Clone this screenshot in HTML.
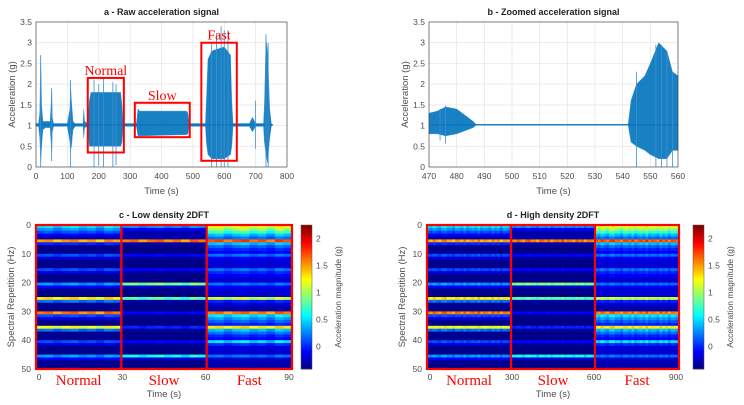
<!DOCTYPE html>
<html><head><meta charset="utf-8">
<style>
html,body{margin:0;padding:0;background:#fff;}
svg{display:block;font-family:"Liberation Sans",sans-serif;}
.tk{font-size:8.5px;fill:#4d4d4d;}
.ttl{font-size:9px;font-weight:bold;fill:#222;}
.ax{font-size:9.5px;fill:#4d4d4d;}
.red{font-family:"Liberation Serif",serif;fill:#ff0000;}
</style></head>
<body>
<svg id="fig" width="744" height="405" viewBox="0 0 744 405" xmlns="http://www.w3.org/2000/svg"></svg>
<script>
// ---- chart a data (time s, envelope high g, envelope low g) ----
const rawTimes = [0,8,12,15,18,22,30,45,48,50,52,56,100,108,110,113,118,125,150,152,155,165,170,175,270,274,278,320,325,330,480,484,488,540,543,548,560,600,620,624,628,680,690,700,710,725,728,733,738,745,750,755];
const rawHigh  = [1.05,1.05,1.3,2.7,1.5,1.1,1.1,1.1,1.5,1.9,1.2,1.05,1.05,1.4,2.0,1.6,1.1,1.05,1.05,1.4,1.1,1.05,1.6,1.8,1.8,1.5,1.05,1.05,1.4,1.35,1.35,1.3,1.05,1.05,1.6,2.6,2.8,2.9,2.7,1.6,1.05,1.05,1.2,1.05,1.05,1.05,1.5,3.1,2.8,1.4,1.05,1.02];
const rawLow   = [0.98,0.98,0.7,0.1,0.5,0.9,0.95,0.95,0.6,0.3,0.85,0.98,0.98,0.6,0.4,0.5,0.9,0.98,0.98,0.7,0.95,0.98,0.5,0.5,0.5,0.6,0.98,0.98,0.75,0.75,0.78,0.8,0.98,0.98,0.6,0.3,0.2,0.2,0.3,0.5,0.98,0.98,0.85,0.98,0.98,0.98,0.6,0.3,0.1,0.7,0.98,1.02];
const rawSpikeT = [15,50,110,185,200,215,245,255,560,575,590,600,612,700,733,740];
const rawSpikeV = [2.7,1.9,2.1,2.1,2.0,2.15,2.05,2.0,3.0,3.2,3.4,3.3,3.3,1.6,3.2,3.0];
const xTicksA = [0,100,200,300,400,500,600,700,800];
const yTicks = [0,0.5,1,1.5,2,2.5,3,3.5];
// ---- chart b data ----
const zoomTimes = [470,473,476,480,484,486,487,542,543,545,548,550,553,556,558,560];
const zoomHigh  = [1.3,1.35,1.45,1.4,1.2,1.1,1.03,1.03,1.6,2.0,2.2,2.5,3.0,2.8,2.3,2.2];
const zoomLow   = [0.8,0.8,0.75,0.8,0.9,0.95,1.01,1.01,0.6,0.5,0.4,0.3,0.2,0.2,0.4,0.4];
const zoomSpikeT = [474,476,545,552,554,556,558];
const zoomSpikeV = [1.4,1.48,2.3,2.95,2.95,2.8,2.3];
const xTicksB = [470,480,490,500,510,520,530,540,550,560];
// ---- heatmap data: per-row magnitude profiles (rows 0..49 Hz) ----
const normalProfile = [0.5,0.3,0.1,-0.1,-0.3,1.5,0.0,-0.38,-0.38,-0.38,0.1,-0.2,-0.38,-0.38,-0.38,0.1,-0.2,-0.38,-0.38,-0.38,0.3,-0.1,-0.38,-0.38,-0.38,1.3,0.2,-0.38,-0.38,-0.38,1.6,0.1,-0.2,-0.38,-0.38,1.2,0.2,-0.38,-0.38,-0.38,0.1,-0.2,-0.38,-0.38,-0.38,0.3,-0.1,-0.38,-0.38,-0.38];
const slowProfile = [0.3,-0.1,-0.3,-0.3,-0.3,1.6,-0.3,-0.4,-0.4,-0.4,-0.1,-0.35,-0.4,-0.4,-0.4,-0.1,-0.35,-0.4,-0.4,-0.4,0.9,-0.2,-0.4,-0.4,-0.4,0.8,-0.3,-0.4,-0.4,-0.4,-0.1,-0.35,-0.4,-0.4,-0.4,0.0,-0.35,-0.4,-0.4,-0.4,-0.1,-0.35,-0.4,-0.4,-0.4,0.6,-0.2,-0.4,-0.4,-0.4];
const fastProfile = [1.2,1.0,0.7,0.4,0.2,1.7,0.4,0.15,0.0,-0.1,0.2,-0.1,-0.2,-0.2,-0.2,0.2,0.0,-0.1,-0.2,-0.2,0.2,-0.1,-0.2,-0.2,-0.2,1.1,0.0,-0.2,-0.3,-0.3,1.6,0.5,0.3,0.15,0.0,1.3,0.4,0.2,0.0,-0.1,0.5,0.0,-0.2,-0.2,-0.2,0.2,-0.2,-0.3,-0.3,-0.3];
const colModLow = [0.0,0.2,-0.3,0.1,0.3,-0.2,0.1,-0.4,0.3,0.0];
const colModHigh = [0.1,-0.2,0.3,0.0,-0.3,0.2,0.4,-0.1,0.0,-0.4,0.2,0.1,-0.2,0.3,-0.3,0.0,0.2,-0.1,0.4,-0.2,0.1,0.0,-0.3,0.3,-0.1,0.2,-0.4,0.1,0.0,-0.2];
const colorTicks = [0,0.5,1,1.5,2];
const hmXTicksLow = [0,30,60,90];
const hmXTicksHigh = [0,300,600,900];
const hmYTicks = [0,10,20,30,40,50];

const NS='http://www.w3.org/2000/svg';
const svg=document.getElementById('fig');
function el(tag,attrs,parent,text){const e=document.createElementNS(NS,tag);for(const k in attrs)e.setAttribute(k,attrs[k]);if(text!==undefined)e.textContent=text;(parent||svg).appendChild(e);return e;}

function jet(v){
  const r=Math.max(0,Math.min(1,1.5-Math.abs(4*v-3)));
  const g=Math.max(0,Math.min(1,1.5-Math.abs(4*v-2)));
  const b=Math.max(0,Math.min(1,1.5-Math.abs(4*v-1)));
  return `rgb(${Math.round(r*255)},${Math.round(g*255)},${Math.round(b*255)})`;
}
const CMIN=-0.42,CMAX=2.25;
function cval(v){return jet(Math.max(0,Math.min(1,(v-CMIN)/(CMAX-CMIN))));}

function signalChart(name,x0,x1,t0,t1,xticks,times,hi,lo,spT,spV,title){
  const y0=22,y1=167;
  const sx=t=>x0+(t-t0)/(t1-t0)*(x1-x0);
  const sy=v=>y1-v/3.5*(y1-y0);
  const g=el('g',{});
  
  
  el('rect',{x:x0,y:y0,width:x1-x0,height:y1-y0,fill:'#fff'},g);
  xticks.forEach(t=>{el('line',{x1:sx(t),x2:sx(t),y1:y0,y2:y1,stroke:'#e4e4e4','stroke-width':0.7},g);
    const l=el('text',{x:sx(t),y:y1+12,'text-anchor':'middle',class:'tk'},g,String(t));
    });
  yTicks.forEach(v=>{el('line',{x1:x0,x2:x1,y1:sy(v),y2:sy(v),stroke:'#e4e4e4','stroke-width':0.7},g);
    const l=el('text',{x:x0-4,y:sy(v)+3,'text-anchor':'end',class:'tk'},g,String(v));
    });
  const n=times.length;
  let pts=times.map((t,i)=>sx(t)+','+sy(hi[i])).join(' ')+' '+times.map((t,i)=>sx(times[n-1-i])+','+sy(lo[n-1-i])).join(' ');
  const env=el('polygon',{points:pts,fill:'#0072BD','fill-opacity':0.9,stroke:'#3a8fd0','stroke-width':0.4},g);
  
  el('polyline',{points:times.map(t=>sx(t)+','+sy(1.02)).join(' '),fill:'none',stroke:'#0072BD','stroke-width':1},g);
  spT.forEach((t,i)=>{const s=el('line',{x1:sx(t),x2:sx(t),y1:sy(spV[i]),y2:sy(Math.max(0,2.04-spV[i])),stroke:'#3f8fd0','stroke-width':0.8},g);
    });
  el('rect',{x:x0,y:y0,width:x1-x0,height:y1-y0,fill:'none',stroke:'#333','stroke-width':0.6},g);
  const tt=el('text',{x:(x0+x1)/2,y:15,'text-anchor':'middle',class:'ttl'},g,title);
  
  const xl=el('text',{x:(x0+x1)/2,y:194,'text-anchor':'middle',class:'ax'},g,'Time (s)');
  
  const yl=el('text',{x:0,y:0,'text-anchor':'middle',class:'ax',transform:`translate(${x0-21},${(y0+y1)/2}) rotate(-90)`},g,'Acceleration (g)');
  
  return {sx,sy,g};
}

const A=signalChart('raw-signal-chart',36,287,0,800,xTicksA,rawTimes,rawHigh,rawLow,rawSpikeT,rawSpikeV,'a - Raw acceleration signal');
const boxes=[['Normal',165,280,0.35,2.15],['Slow',315,490,0.72,1.55],['Fast',527,640,0.15,3.0]];
boxes.forEach(b=>{
  const r=el('rect',{x:A.sx(b[1]),y:A.sy(b[4]),width:A.sx(b[2])-A.sx(b[1]),height:A.sy(b[3])-A.sy(b[4]),fill:'none',stroke:'#ff0000','stroke-width':2},A.g);
  
  const t=el('text',{x:(A.sx(b[1])+A.sx(b[2]))/2,y:A.sy(b[4])-3,'text-anchor':'middle',class:'red','font-size':'14px'},A.g,b[0]);
  
});
signalChart('zoomed-signal-chart',429,678,470,560,xTicksB,zoomTimes,zoomHigh,zoomLow,zoomSpikeT,zoomSpikeV,'b - Zoomed acceleration signal');

function heatmap(name,x0,x1,cbx,xticks,mod,title){
  const y0=225,y1=369;
  const g=el('g',{});
  
  const profiles=[normalProfile,slowProfile,fastProfile];
  const nc=mod.length, total=nc*3;
  const cw=(x1-x0)/total, rh=(y1-y0)/profiles[0].length;
  profiles.forEach((p,s)=>{
    for(let c=0;c<nc;c++){
      for(let r=0;r<p.length;r++){
        const v=p[r]+mod[c]*0.35*Math.min(1,Math.max(0,p[r]+0.38));
        el('rect',{x:(x0+(s*nc+c)*cw).toFixed(2),y:(y0+r*rh).toFixed(2),width:(cw+0.4).toFixed(2),height:(rh+0.4).toFixed(2),fill:cval(v)},g);
      }
    }
  });
  el('rect',{x:x0,y:y0,width:x1-x0,height:y1-y0,fill:'none',stroke:'#ff0000','stroke-width':2.2},g);
  [1,2].forEach(k=>{const l=el('line',{x1:x0+k*nc*cw,x2:x0+k*nc*cw,y1:y0,y2:y1,stroke:'#ff0000','stroke-width':2.2},g);
    });
  const xs=t=>x0+3+(t/xticks[3])*(x1-x0-6);
  xticks.forEach(t=>{const l=el('text',{x:xs(t),y:y1+11,'text-anchor':'middle',class:'tk'},g,String(t));
    });
  hmYTicks.forEach(v=>{const l=el('text',{x:x0-5,y:y0+v/50*(y1-y0)+3,'text-anchor':'end',class:'tk'},g,String(v));
    });
  ['Normal','Slow','Fast'].forEach((n,s)=>{const t=el('text',{x:x0+(s+0.5)*nc*cw,y:y1+16,'text-anchor':'middle',class:'red','font-size':'15px'},g,n);
    });
  const tt=el('text',{x:(x0+x1)/2,y:218,'text-anchor':'middle',class:'ttl'},g,title);
  
  const xl=el('text',{x:(x0+x1)/2,y:397,'text-anchor':'middle',class:'ax'},g,'Time (s)');
  
  const yl=el('text',{x:0,y:0,'text-anchor':'middle',class:'ax',transform:`translate(${x0-22},${(y0+y1)/2}) rotate(-90)`},g,'Spectral Repetition (Hz)');
  
  const cb=el('g',{},g);
  
  const cy=v=>y1-(v-CMIN)/(CMAX-CMIN)*(y1-y0);
  const steps=64;
  for(let i=0;i<steps;i++){
    const v=CMIN+(i+0.5)/steps*(CMAX-CMIN);
    el('rect',{x:cbx,y:(y1-(i+1)*(y1-y0)/steps).toFixed(2),width:11,height:((y1-y0)/steps+0.4).toFixed(2),fill:cval(v)},cb);
  }
  el('rect',{x:cbx,y:y0,width:11,height:y1-y0,fill:'none',stroke:'#555','stroke-width':0.5},cb);
  colorTicks.forEach(v=>{const l=el('text',{x:cbx+15,y:cy(v)+3,class:'tk'},cb,String(v));
    });
  const cl=el('text',{x:0,y:0,'text-anchor':'middle',class:'tk','font-size':'8px',transform:`translate(${cbx+40},${(y0+y1)/2}) rotate(-90)`},cb,'Acceleration magnitude (g)');
  
}
heatmap('low-density-heatmap',36,292,301,hmXTicksLow,colModLow,'c - Low density 2DFT');
heatmap('high-density-heatmap',427,679,693,hmXTicksHigh,colModHigh,'d - High density 2DFT');
</script>
</body></html>
